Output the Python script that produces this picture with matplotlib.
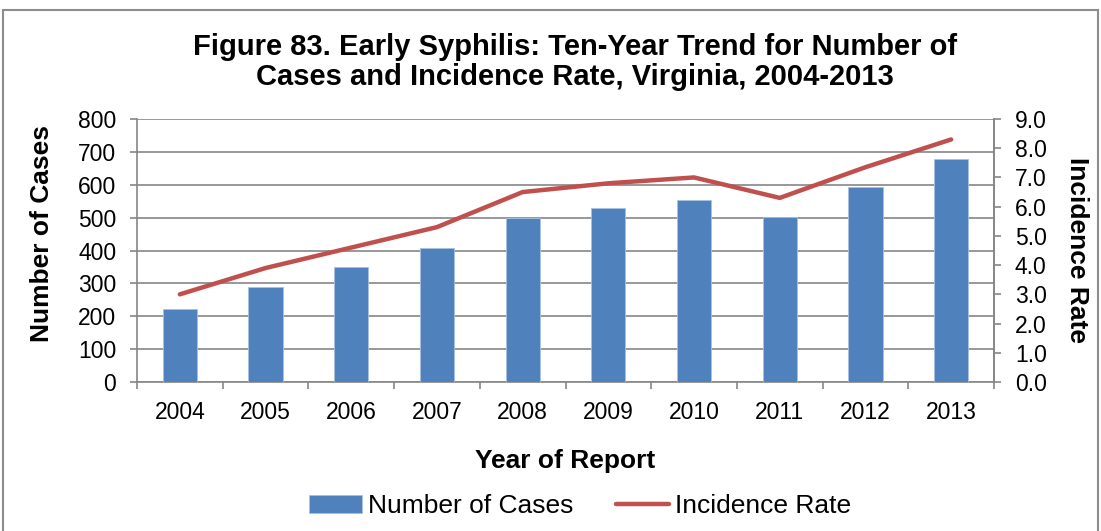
import matplotlib
matplotlib.use("Agg")
import matplotlib.pyplot as plt
from matplotlib.patches import Rectangle
import numpy as np

years = ["2004", "2005", "2006", "2007", "2008", "2009", "2010", "2011", "2012", "2013"]
cases = [221, 290, 350, 407, 499, 529, 553, 501, 593, 677]
rate = [3.0, 3.9, 4.6, 5.3, 6.5, 6.8, 7.0, 6.3, 7.35, 8.3]

plt.rcParams['font.family'] = ['Liberation Sans', 'DejaVu Sans']
W, H = 1101, 531
fig = plt.figure(figsize=(W/100, H/100), dpi=100)

# outer border
fig.patches.append(Rectangle((3/W, -0.1), (W-6)/W, (H-10)/H + 0.1, transform=fig.transFigure,
                             fill=False, edgecolor='#8c8c8c', lw=1.5))

x0, x1 = 137, 994
y0, y1 = 119, 382
AW, AH = x1 - x0, y1 - y0
ax = fig.add_axes([x0/W, 1 - y1/H, AW/W, AH/H])
x = np.arange(len(years))
ax.bar(x, cases, width=0.4, color='#4F81BD', edgecolor='#a9c1e0', linewidth=0.6, zorder=3, label='Number of Cases')
ax.set_xlim(-0.5, len(years)-0.5)
ax.set_ylim(0, 800)
ax.set_yticks(np.arange(0, 801, 100))
ax.set_xticks(x)
ax.set_xticklabels(years)
ax.set_xticks(np.arange(-0.5, len(years), 1), minor=True)
ax.tick_params(axis='x', which='major', length=0, labelsize=16.5, pad=14)
ax.tick_params(axis='x', which='minor', length=5, color='#868686', width=1.2)
ax.tick_params(axis='y', length=5, color='#868686', width=1.2, labelsize=16.5, pad=10)
ax.grid(axis='y', color='#868686', lw=1.2, zorder=0)
ax.spines['top'].set_visible(False)
for s in ['left', 'bottom', 'right']:
    ax.spines[s].set_color('#868686')
    ax.spines[s].set_linewidth(1.2)
ax.set_ylabel('Number of Cases', fontsize=19, fontweight='bold', va='center', ha='center',
              rotation_mode='default')
ax.yaxis.set_label_coords((42.5 - x0)/AW, (y1 - 233)/AH)
ax.set_xlabel('Year of Report', fontsize=19, fontweight='bold', va='center', ha='center')
ax.xaxis.set_label_coords((565 - x0)/AW, (y1 - 461)/AH)

ax2 = ax.twinx()
ax2.plot(x, rate, color='#C0504D', lw=3.2, solid_capstyle='round', zorder=4, label='Incidence Rate')
ax2.set_ylim(0, 9)
ax2.set_yticks(np.arange(0, 9.01, 1.0))
ax2.set_yticklabels([f"{v:.1f}" for v in np.arange(0, 9.01, 1.0)])
ax2.tick_params(axis='y', length=5, color='#868686', width=1.2, labelsize=16.5, pad=10)
for s in ['top', 'left', 'bottom']:
    ax2.spines[s].set_visible(False)
ax2.spines['right'].set_color('#868686')
ax2.spines['right'].set_linewidth(1.2)
ax2.set_ylabel('Incidence Rate', fontsize=19, fontweight='bold', rotation=270, va='center', ha='center',
               rotation_mode='default')
ax2.yaxis.set_label_coords((1077 - x0)/AW, (y1 - 250)/AH)

fig.text(575/W, 1 - 62/H, 'Figure 83. Early Syphilis: Ten-Year Trend for Number of\nCases and Incidence Rate, Virginia, 2004-2013',
         ha='center', va='center', fontsize=21, fontweight='bold', linespacing=1.05)

h1, l1 = ax.get_legend_handles_labels()
h2, l2 = ax2.get_legend_handles_labels()
fig.legend(h1 + h2, l1 + l2, loc='center', bbox_to_anchor=(580/W, 1 - 506/H), ncol=2,
           frameon=False, fontsize=19, handlelength=2.0, handletextpad=0.23, columnspacing=1.6,
           borderpad=0, borderaxespad=0)

fig.savefig('out.png', dpi=100)
